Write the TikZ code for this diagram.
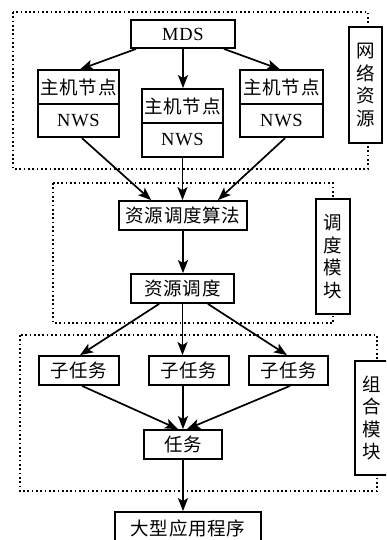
\documentclass[tikz,border=0pt]{standalone}
\usepackage{fontspec}
\setmainfont{Liberation Serif}[LetterSpace=4]
\newfontfamily\cjk[LetterSpace=4]{Noto Sans CJK SC}
\usetikzlibrary{arrows.meta,calc}
\begin{document}
\begin{tikzpicture}[x=1pt,y=-1pt,
  box/.style={draw,line width=1.8pt,fill=white,inner sep=0pt,font=\cjk\fontsize{18.5}{18.5}\selectfont},
  lab/.style={draw,line width=1.8pt,fill=white,inner sep=0pt,align=center,font=\cjk\fontsize{18.5}{22.5}\selectfont},
  arr/.style={line width=1.7pt,-{Stealth[length=13pt,width=10pt,inset=3pt]}},
  dotbox/.style={line width=1.7pt,dash pattern=on 1.7pt off 2.6pt}]
\useasboundingbox (0,0) rectangle (386,540);
\clip (0,0) rectangle (386,540);
% dotted groups
\draw[dotbox] (13,12) rectangle (368,169);
\draw[dotbox] (53,183) rectangle (333,323);
\draw[dotbox] (20,335) rectangle (377,491);
% labels
\node[lab,minimum width=33pt,minimum height=116pt] (lab1) at (365.5,85) {网\\络\\资\\源};
\node[lab,minimum width=34pt,minimum height=115pt] (lab2) at (333,256.5) {调\\度\\模\\块};
\node[lab,minimum width=34pt,minimum height=114pt] (lab3) at (372,418) {组\\合\\模\\块};
% nodes
\node[box,minimum width=104pt,minimum height=28pt] (mds) at (183,34) {\rmfamily MDS};
\node[box,minimum width=81pt,minimum height=33.5pt] (h1t) at (78.5,87) {主机节点};
\node[box,minimum width=81pt,minimum height=33.5pt] (h1b) at (78.5,120.5) {\rmfamily NWS};
\node[box,minimum width=81pt,minimum height=34pt] (h2t) at (182.5,106) {主机节点};
\node[box,minimum width=81pt,minimum height=34pt] (h2b) at (182.5,140) {\rmfamily NWS};
\node[box,minimum width=83pt,minimum height=33.5pt] (h3t) at (281.5,87) {主机节点};
\node[box,minimum width=83pt,minimum height=33.5pt] (h3b) at (281.5,120.5) {\rmfamily NWS};
\node[box,minimum width=128pt,minimum height=29pt] (algo) at (183,215.5) {资源调度算法};
\node[box,minimum width=103pt,minimum height=29pt] (res) at (182.5,288.5) {资源调度};
\node[box,minimum width=80pt,minimum height=29pt] (s1) at (79,370.5) {子任务};
\node[box,minimum width=80pt,minimum height=29pt] (s2) at (189,370.5) {子任务};
\node[box,minimum width=79pt,minimum height=29pt] (s3) at (288.5,370.5) {子任务};
\node[box,minimum width=78pt,minimum height=29pt] (task) at (183,444.5) {任务};
\node[box,minimum width=146pt,minimum height=32pt] (app) at (188,528) {大型应用程序};
% arrows
\draw[arr] ([xshift=6pt]mds.south west) -- ([xshift=1.5pt]h1t.north);
\draw[arr] (mds.south) -- (mds.south |- h2t.north);
\draw[arr] ([xshift=-12pt]mds.south east) -- ([xshift=-1.5pt]h3t.north);
\draw[arr] ([xshift=3.5pt]h1b.south) -- ([xshift=33pt]algo.north west);
\draw[arr] (h2b.south) -- (h2b.south |- algo.north);
\draw[arr] ([xshift=3.5pt]h3b.south) -- ([xshift=-30pt]algo.north east);
\draw[arr] (algo.south) -- (algo.south |- res.north);
\draw[arr] ([xshift=29pt]res.south west) -- ([xshift=1pt]s1.north);
\draw[arr] (res.south) -- (res.south |- s2.north);
\draw[arr] ([xshift=-27pt]res.south east) -- ([xshift=-1.5pt]s3.north);
\draw[arr] ([xshift=3pt]s1.south) -- ([xshift=-5pt]task.north);
\draw[arr] ([xshift=-6pt]s2.south) -- ([xshift=-6pt]s2.south |- task.north);
\draw[arr] ([xshift=1.5pt]s3.south) -- ([xshift=4pt]task.north);
\draw[arr] (task.south) -- (task.south |- app.north);
\end{tikzpicture}
\end{document}
